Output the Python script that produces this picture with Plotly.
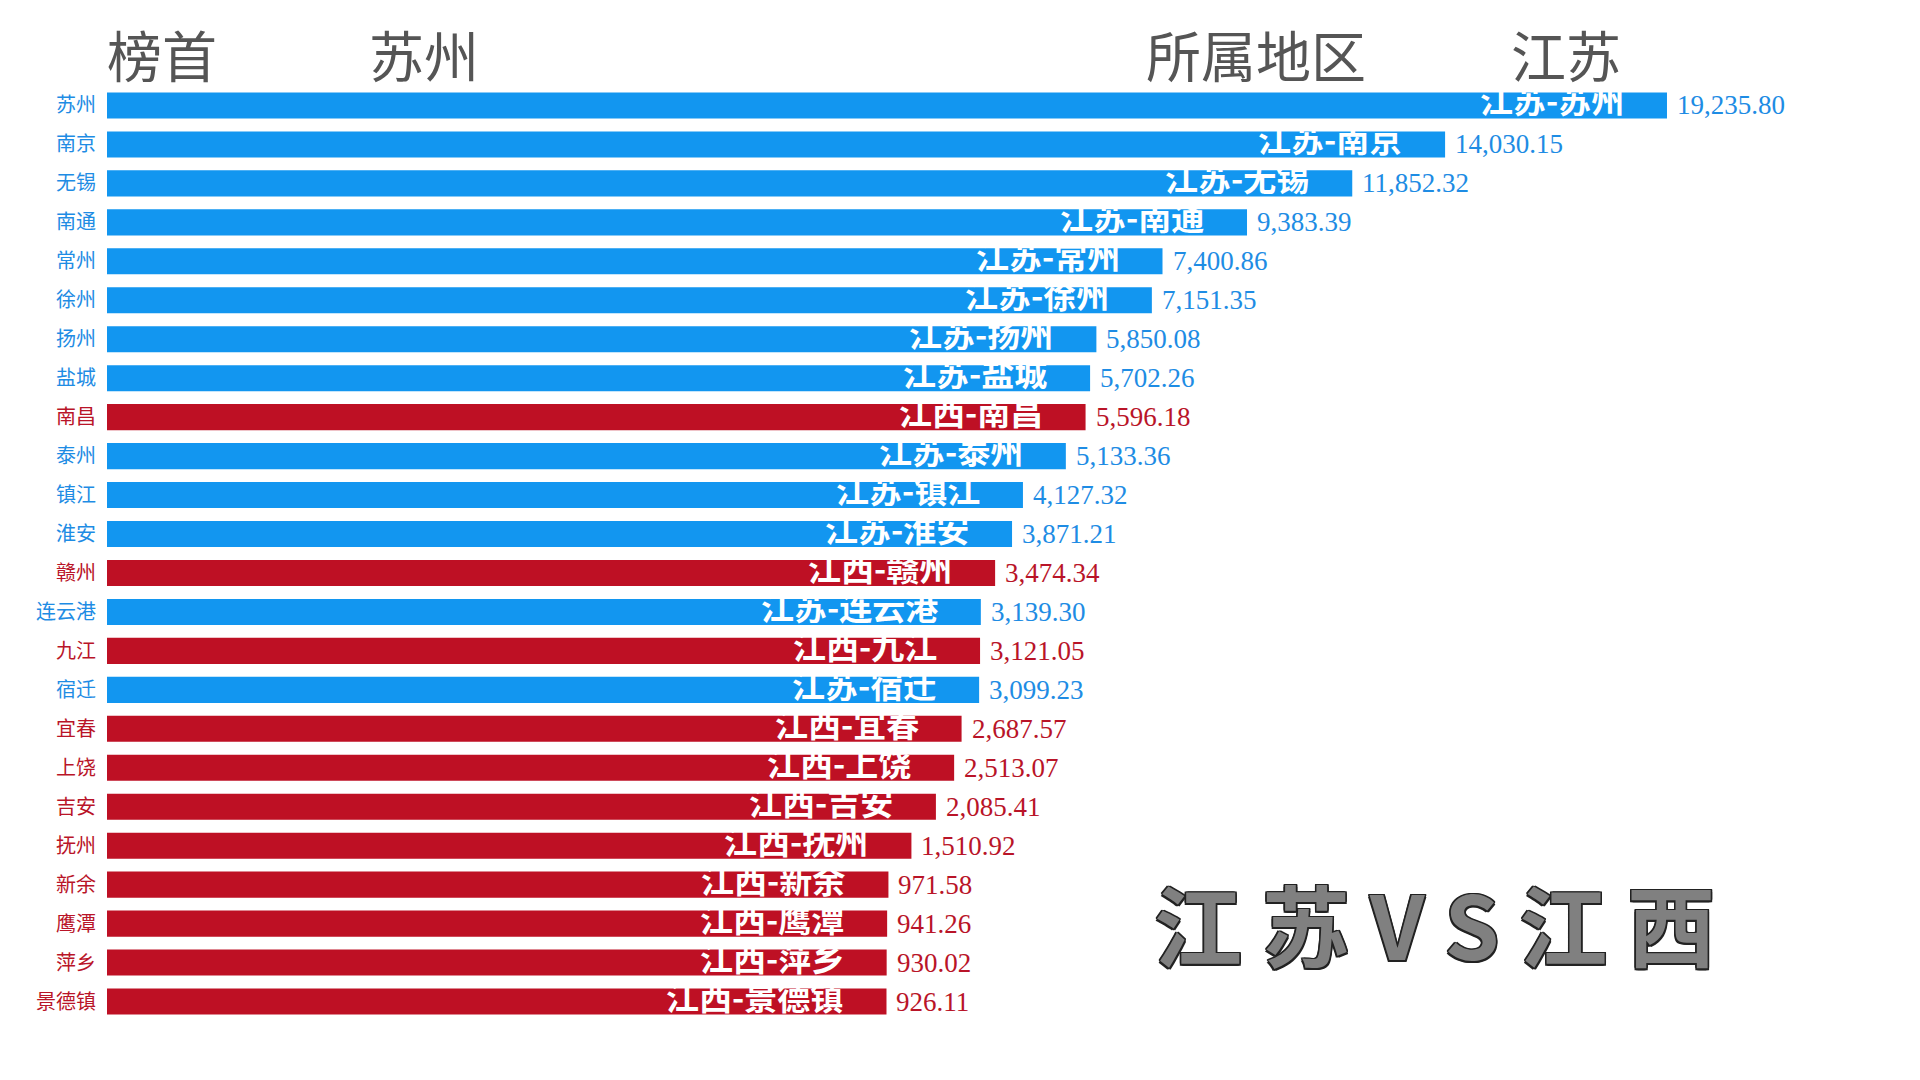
import plotly.graph_objects as go

# ---- data ----
cities = ["苏州", "南京", "无锡", "南通", "常州", "徐州", "扬州", "盐城", "南昌", "泰州",
          "镇江", "淮安", "赣州", "连云港", "九江", "宿迁", "宜春", "上饶", "吉安", "抚州",
          "新余", "鹰潭", "萍乡", "景德镇"]
provinces = ["江苏", "江苏", "江苏", "江苏", "江苏", "江苏", "江苏", "江苏", "江西", "江苏",
             "江苏", "江苏", "江西", "江苏", "江西", "江苏", "江西", "江西", "江西", "江西",
             "江西", "江西", "江西", "江西"]
values = [19235.80, 14030.15, 11852.32, 9383.39, 7400.86, 7151.35, 5850.08, 5702.26,
          5596.18, 5133.36, 4127.32, 3871.21, 3474.34, 3139.30, 3121.05, 3099.23,
          2687.57, 2513.07, 2085.41, 1510.92, 971.58, 941.26, 930.02, 926.11]

# ---- style ----
BAR_COLORS = {"江苏": "rgb(18,150,240)", "江西": "rgb(190,16,36)"}
TXT_COLORS = {"江苏": "rgb(30,140,228)", "江西": "rgb(185,20,40)"}
AXIS_MIN = -17360
AXIS_MAX = 22356
CJK = "Noto Sans CJK SC"
SERIF = "Liberation Serif"

W, H = 1920, 1080
ML, MR, MT, MB = 107, 120, 85.5, 58.5
PW, PH = W - ML - MR, H - MT - MB


def px_x(px):
    return (px - ML) / PW


def px_y(py):
    return (H - MB - py) / PH


fig = go.Figure()
fig.add_trace(go.Bar(
    y=cities,
    x=[v - AXIS_MIN for v in values],
    base=AXIS_MIN,
    orientation="h",
    marker=dict(color=[BAR_COLORS[p] for p in provinces], line=dict(width=0)),
    hoverinfo="skip",
    showlegend=False,
))

annotations = []
for c, p, v in zip(cities, provinces, values):
    annotations.append(dict(
        x=v, y=c, xref="x", yref="y", text=f"{p}-{c}", showarrow=False,
        xanchor="right", yanchor="middle", xshift=-41, yshift=6,
        font=dict(family=CJK, size=33, color="white", weight="bold"),
    ))
    annotations.append(dict(
        x=v, y=c, xref="x", yref="y", text=f"{v:,.2f}", showarrow=False,
        xanchor="left", yanchor="middle", xshift=8, yshift=0,
        font=dict(family=SERIF, size=27, color=TXT_COLORS[p]),
    ))

head_font = dict(family=CJK, size=55, color="#555555")
for txt, px in [("榜首", 105), (cities[0], 367), ("所属地区", 1144), (provinces[0], 1509)]:
    annotations.append(dict(
        x=px_x(px), y=px_y(52), xref="paper", yref="paper", text=txt, showarrow=False,
        xanchor="left", yanchor="middle", font=head_font,
    ))

annotations.append(dict(
    x=px_x(1434), y=px_y(922), xref="paper", yref="paper",
    text="江 苏 V S 江 西", showarrow=False, xanchor="center", yanchor="middle",
    font=dict(family=CJK, size=88, color="#808080", weight="bold",
              shadow="-1.5px -1.5px 0 #222, 1.5px -1.5px 0 #222, -1.5px 1.5px 0 #222, 1.5px 1.5px 0 #222, 0 1.5px 0 #222, 0 -1.5px 0 #222, 1.5px 0 0 #222, -1.5px 0 0 #222"),
))

ticktext = [f"<span style='color:{TXT_COLORS[p]}'>{c}</span>" for c, p in zip(cities, provinces)]

fig.update_layout(
    width=W, height=H,
    margin=dict(l=ML, r=MR, t=MT, b=MB, pad=0),
    paper_bgcolor="white", plot_bgcolor="white",
    bargap=0.33,
    xaxis=dict(range=[AXIS_MIN, AXIS_MAX], visible=False, showgrid=False, zeroline=False),
    yaxis=dict(
        type="category", categoryorder="array", categoryarray=cities,
        range=[len(cities) - 0.5, -0.5],
        tickmode="array", tickvals=cities, ticktext=ticktext,
        tickfont=dict(family=CJK, size=20),
        showgrid=False, zeroline=False, showline=False, ticks="",
        ticklabelstandoff=10,
    ),
    annotations=annotations,
)

fig.write_html("out.html", config={"displayModeBar": False},
               post_script="document.body.style.margin='0';")
